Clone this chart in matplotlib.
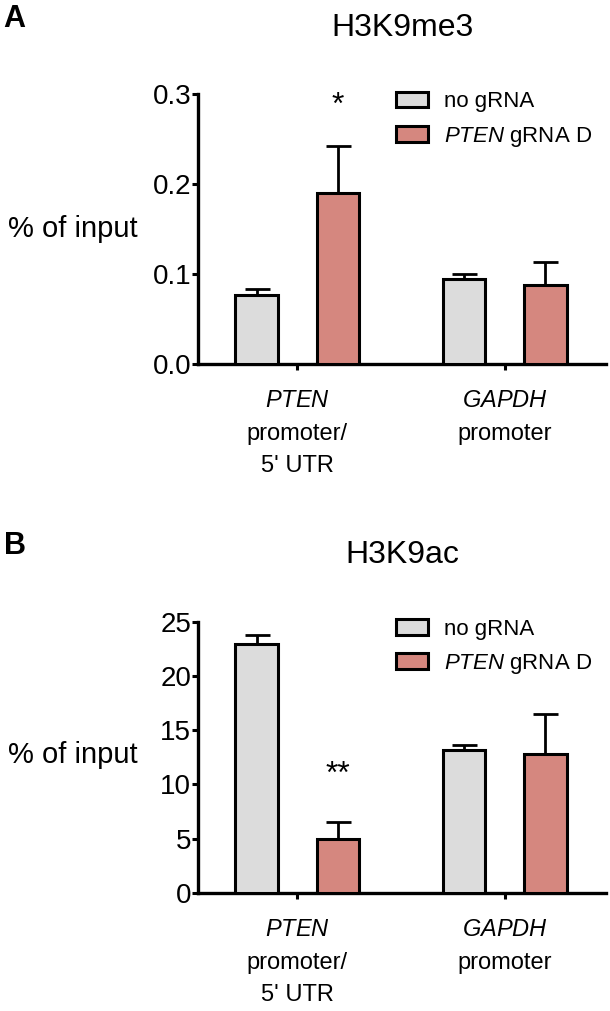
import numpy as np
import matplotlib.pyplot as plt
from matplotlib.ticker import FormatStrFormatter

plt.rcParams['font.family'] = ['Liberation Sans', 'DejaVu Sans']
plt.rcParams['mathtext.fontset'] = 'custom'
plt.rcParams['mathtext.rm'] = 'Liberation Sans'
plt.rcParams['mathtext.it'] = 'Liberation Sans:italic'

# datos
regiones = ['$\\it{PTEN}$\npromoter/\n5\' UTR', '$\\it{GAPDH}$\npromoter']
series = ['no gRNA', '$\\it{PTEN}$ gRNA D']

me3_media = [0.077, 0.094]
me3_err = [0.006, 0.0055]
me3_gd = [0.190, 0.088]
me3_gd_err = [0.052, 0.025]

ac_media = [22.9, 13.2]
ac_err = [0.9, 0.4]
ac_gd = [5.0, 12.8]
ac_gd_err = [1.5, 3.7]

# significancia para la barra gRNA D de cada region
marcas_me3 = ['*', '']
marcas_ac = ['**', '']

color_no = '#dcdcdc'
color_gd = '#d5877f'

fig = plt.figure(figsize=(6.1, 10.11), dpi=100)


def panel(ax, y1, e1, y2, e2, yticks, fmt, titulo, estrellas, star_y):
    x = np.arange(len(regiones))
    off = 0.196
    w = 0.207
    for xs, ys, es, col, lab in [(x - off, y1, e1, color_no, series[0]),
                                 (x + off, y2, e2, color_gd, series[1])]:
        ax.bar(xs, ys, width=w, color=col, edgecolor='black', linewidth=2.2,
               label=lab, zorder=3)
        ax.errorbar(xs, ys, yerr=[np.zeros(len(ys)), es], fmt='none',
                    ecolor='black', elinewidth=2.0, capsize=9, capthick=2.0,
                    zorder=2)
    for i, s in enumerate(estrellas):
        if s:
            ax.text(x[i] + off, star_y, s, ha='center', va='center', fontsize=23)

    ax.set_xlim(-0.48, 1.49)
    ax.set_ylim(yticks[0], yticks[-1])
    ax.set_yticks(yticks)
    ax.yaxis.set_major_formatter(FormatStrFormatter(fmt))
    ax.set_xticks(x)
    ax.set_xticklabels(regiones, fontsize=17, linespacing=1.6, va='top')
    ax.tick_params(axis='y', labelsize=20, length=4, width=2.2, pad=1)
    ax.tick_params(axis='x', length=4, width=2.2, pad=15)
    for s in ['top', 'right']:
        ax.spines[s].set_visible(False)
    for s in ['left', 'bottom']:
        ax.spines[s].set_linewidth(2.4)
    ax.set_title(titulo, fontsize=23, pad=0, y=1.215)
    ax.legend(loc='upper left', frameon=False, fontsize=16,
              handlelength=1.45, handleheight=0.72, handletextpad=0.7,
              labelspacing=0.55, borderpad=0, borderaxespad=0,
              bbox_to_anchor=(0.485, 1.01))


axA = fig.add_axes([0.3246, 0.640, 0.669, 0.267])
panel(axA, me3_media, me3_err, me3_gd, me3_gd_err,
      [0.0, 0.1, 0.2, 0.3], '%.1f', 'H3K9me3', marcas_me3, 0.287)

axB = fig.add_axes([0.3246, 0.1167, 0.669, 0.2685])
panel(axB, ac_media, ac_err, ac_gd, ac_gd_err,
      [0, 5, 10, 15, 20, 25], '%d', 'H3K9ac', marcas_ac, 10.9)

fig.text(0.12, 0.773, '% of input', fontsize=21, ha='center', va='center')
fig.text(0.12, 0.253, '% of input', fontsize=21, ha='center', va='center')
fig.text(0.006, 0.981, 'A', fontsize=22, fontweight='bold', va='center')
fig.text(0.006, 0.46, 'B', fontsize=22, fontweight='bold', va='center')

fig.savefig('out.png', dpi=100)
